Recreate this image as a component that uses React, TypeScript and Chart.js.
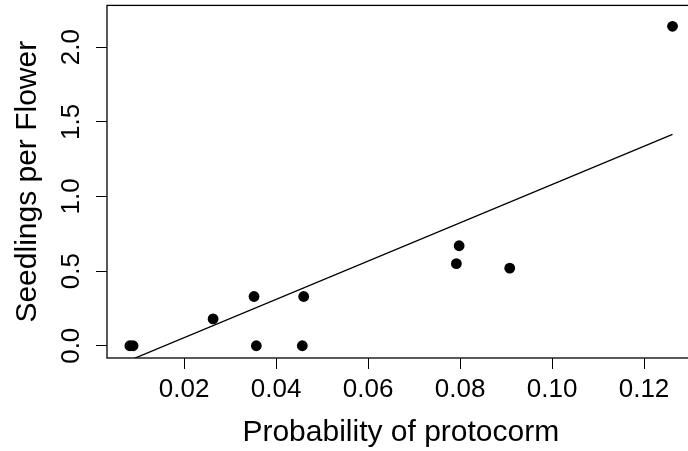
import React, { useEffect, useRef } from "react";
import { Chart, registerables } from "chart.js";

Chart.register(...registerables);

// ---- data ----
const protocormProb = [0.0082, 0.0089, 0.0263, 0.0352, 0.0357, 0.0457, 0.046, 0.0792, 0.0798, 0.0908, 0.1262];
const seedlingsPerFlower = [0, 0, 0.18, 0.33, 0, 0, 0.33, 0.55, 0.67, 0.52, 2.14];
const fitX = [0.0086, 0.1262];
const fitY = [-0.092, 1.416];
const xTickValues = [0.02, 0.04, 0.06, 0.08, 0.1, 0.12];
const xTickLabels = ["0.02", "0.04", "0.06", "0.08", "0.10", "0.12"];
const yTickValues = [0, 0.5, 1, 1.5, 2];
const yTickLabels = ["0.0", "0.5", "1.0", "1.5", "2.0"];
const xTitle = "Probability of protocorm";
const yTitle = "Seedlings per Flower";

const FONT = "'Liberation Sans', Arial, Helvetica, sans-serif";

const framePlugin = {
  id: "frame",
  afterDraw(chart: any) {
    const { ctx, chartArea: a, scales } = chart;
    ctx.save();
    ctx.strokeStyle = "#000";
    ctx.lineWidth = 1.3;
    ctx.strokeRect(a.left, a.top, a.right - a.left, a.bottom - a.top);
    const ys = scales.y;
    ctx.fillStyle = "#000";
    ctx.font = `26px ${FONT}`;
    ctx.textAlign = "center";
    ctx.textBaseline = "middle";
    ys.ticks.forEach((t: any) => {
      const idx = yTickValues.indexOf(t.value);
      const label = idx >= 0 ? yTickLabels[idx] : String(t.value);
      const p = ys.getPixelForValue(t.value);
      ctx.save();
      ctx.translate(a.left - 35.5, p);
      ctx.rotate(-Math.PI / 2);
      ctx.fillText(label, 0, 0);
      ctx.restore();
    });
    ctx.restore();
  },
};

export default function App() {
  const ref = useRef<HTMLCanvasElement | null>(null);
  useEffect(() => {
    if (!ref.current) return;
    const chart = new Chart(ref.current, {
      type: "scatter",
      data: {
        datasets: [
          {
            type: "line",
            data: fitX.map((x, i) => ({ x, y: fitY[i] })),
            borderColor: "#000",
            borderWidth: 1.3,
            pointRadius: 0,
            fill: false,
            showLine: true,
          } as any,
          {
            data: protocormProb.map((x, i) => ({ x, y: seedlingsPerFlower[i] })),
            backgroundColor: "#000",
            borderColor: "#000",
            borderWidth: 0,
            pointRadius: 5.4,
          },
        ],
      },
      options: {
        animation: false,
        responsive: false,
        devicePixelRatio: 1,
        layout: { padding: { top: 4, right: 4, left: 0, bottom: 0 } },
        plugins: { legend: { display: false }, tooltip: { enabled: false } },
        scales: {
          x: {
            type: "linear",
            min: 0.00323,
            max: 0.131,
            afterBuildTicks: (s: any) => {
              s.ticks = xTickValues.map((v) => ({ value: v }));
            },
            afterFit: (s: any) => {
              s.height = 93;
            },
            border: { display: false },
            grid: {
              display: true,
              drawOnChartArea: false,
              drawTicks: true,
              tickLength: 11,
              color: "#000",
              lineWidth: 1,
            },
            ticks: {
              padding: 5,
              color: "#000",
              font: { family: FONT, size: 26 },
              maxRotation: 0,
              autoSkip: false,
              callback: (v: any) => {
                const idx = xTickValues.indexOf(v);
                return idx >= 0 ? xTickLabels[idx] : String(v);
              },
            },
            title: {
              display: true,
              text: xTitle,
              color: "#000",
              font: { family: FONT, size: 30 },
              padding: { top: 0, bottom: 0.5 },
            },
          },
          y: {
            type: "linear",
            min: -0.082,
            max: 2.28,
            afterBuildTicks: (s: any) => {
              s.ticks = yTickValues.map((v) => ({ value: v }));
            },
            afterFit: (s: any) => {
              s.width = 107;
            },
            border: { display: false },
            grid: {
              display: true,
              drawOnChartArea: false,
              drawTicks: true,
              tickLength: 11,
              color: "#000",
              lineWidth: 1,
            },
            ticks: { display: false },
            title: {
              display: true,
              text: yTitle,
              color: "#000",
              font: { family: FONT, size: 30 },
              padding: { top: 10, bottom: 0 },
            },
          },
        },
      },
      plugins: [framePlugin],
    });
    return () => chart.destroy();
  }, []);
  return (
    <div style={{ position: "absolute", left: 0, top: 0, width: 688, height: 451, overflow: "hidden", background: "#fff" }}>
      <canvas ref={ref} width={700} height={451} style={{ display: "block" }} />
    </div>
  );
}
